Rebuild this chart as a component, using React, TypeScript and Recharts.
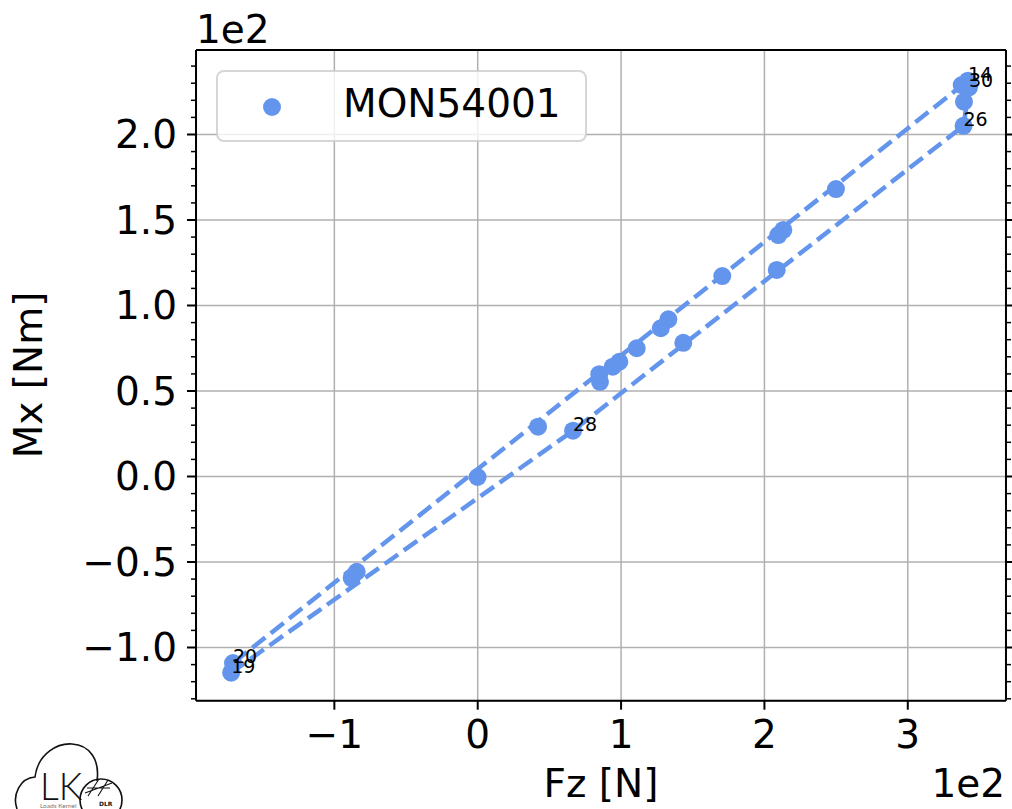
import React from 'react';
import { ScatterChart, Scatter, XAxis, YAxis, CartesianGrid, Legend } from 'recharts';

const FONT = '"DejaVu Sans", sans-serif';
const BLUE = '#6495ED';

const seriesName = 'MON54001';

// Fz [N] and Mx [Nm] per load case
const fzValues = [
  -172.0, -170.7, -87.9, -84.4, -0.1, 42.1, 66.5, 85.3, 84.8, 94.2, 98.8, 110.9, 127.7,
  133.0, 143.4, 170.6, 208.6, 209.7, 213.2, 249.9, 338.9, 339.2, 337.6, 342.7, 342.0,
];
const mxValues = [
  -114.7, -109.1, -59.4, -55.7, -0.3, 29.1, 26.8, 55.4, 59.8, 64.2, 67.1, 75.0, 86.7,
  91.9, 78.2, 117.2, 120.8, 141.2, 144.2, 168.1, 205.1, 219.2, 228.9, 227.6, 231.5,
];
const pointLabels = [
  '19', '20', '', '', '', '', '28', '', '', '', '', '', '',
  '', '', '', '', '', '', '', '26', '', '', '30', '14',
];
// convex hull drawn as the dashed envelope (indices into the arrays above)
const hullOrder = [0, 6, 20, 23, 24, 1, 0];

const xMajorTicks = [-100, 0, 100, 200, 300];
const xMinorTicks = [
  -180, -160, -140, -120, -80, -60, -40, -20, 20, 40, 60, 80, 120, 140, 160, 180, 220, 240,
  260, 280, 320, 340, 360,
];
const yMajorTicks = [-100, -50, 0, 50, 100, 150, 200];
const yMinorTicks = [
  -130, -120, -110, -90, -80, -70, -60, -40, -30, -20, -10, 10, 20, 30, 40, 60, 70, 80, 90,
  110, 120, 130, 140, 160, 170, 180, 190, 210, 220, 230, 240,
];
const xDomain = [-196.5, 368.5];
const yDomain = [-131.1, 249.4];

const points = fzValues.map((fz, i) => ({ fz, mx: mxValues[i], label: pointLabels[i] }));
const hull = hullOrder.map((i) => points[i]);
const labelled = points.filter((p) => p.label);

const minus = (s: string) => s.replace('-', '\u2212');
const fmtX = (v: number) => minus((v / 100).toFixed(0));
const fmtY = (v: number) => minus((v / 100).toFixed(1));

const MAJOR = 9;
const MINOR = 5;
const spine = { stroke: '#000', strokeWidth: 2 };

// ticks are drawn by hand (line + label) from the axis position recharts hands over
const BottomMajor = ({ x, y, payload }: any) => (
  <g>
    <line x1={x} x2={x} y1={y} y2={y + MAJOR} stroke="#000" strokeWidth={2} />
    <text x={x} y={y + 20} dy="0.71em" textAnchor="middle" fontSize={39} fontFamily={FONT} fill="#000">
      {fmtX(payload.value)}
    </text>
  </g>
);
const BottomMinor = ({ x, y }: any) => (
  <line x1={x} x2={x} y1={y} y2={y + MINOR} stroke="#000" strokeWidth={1.5} />
);
const TopMajor = ({ x, y }: any) => (
  <line x1={x} x2={x} y1={y} y2={y - MAJOR} stroke="#000" strokeWidth={2} />
);
const TopMinor = ({ x, y }: any) => (
  <line x1={x} x2={x} y1={y} y2={y - MINOR} stroke="#000" strokeWidth={1.5} />
);
const LeftMajor = ({ x, y, payload }: any) => (
  <g>
    <line x1={x - MAJOR} x2={x} y1={y} y2={y} stroke="#000" strokeWidth={2} />
    <text x={x - 19} y={y} dy="0.355em" textAnchor="end" fontSize={39} fontFamily={FONT} fill="#000">
      {fmtY(payload.value)}
    </text>
  </g>
);
const LeftMinor = ({ x, y }: any) => (
  <line x1={x - MINOR} x2={x} y1={y} y2={y} stroke="#000" strokeWidth={1.5} />
);
const RightMajor = ({ x, y }: any) => (
  <line x1={x} x2={x + MAJOR} y1={y} y2={y} stroke="#000" strokeWidth={2} />
);
const RightMinor = ({ x, y }: any) => (
  <line x1={x} x2={x + MINOR} y1={y} y2={y} stroke="#000" strokeWidth={1.5} />
);

const Dot = (p: any) => <circle cx={p.cx} cy={p.cy} r={9} fill={BLUE} />;
const Empty = () => <g />;
const PointLabel = (p: any) => (
  <text x={p.cx} y={p.cy} fontSize={19} fontFamily={FONT} fill="#000">
    {p.payload.label}
  </text>
);

const LegendBox = (props: any) => {
  const entry = (props.payload || []).find((e: any) => e.type !== 'none');
  const name = entry ? entry.value : seriesName;
  return (
    <svg width={372} height={73} style={{ display: 'block' }}>
      <rect x={1} y={1} width={369} height={70} rx={7} fill="#fff" fillOpacity={0.8}
        stroke="#cccccc" strokeOpacity={0.8} strokeWidth={2} />
      <circle cx={56} cy={37} r={9} fill={BLUE} />
      <text x={127} y={47} fontSize={39} fontFamily={FONT} fill="#000">{name}</text>
    </svg>
  );
};

const common = { type: 'number' as const, interval: 0 as const, allowDataOverflow: true, tickSize: 0, tickMargin: 0, tickLine: false };

export default function App() {
  return (
    <div style={{ position: 'absolute', left: 0, top: 0, width: 1012, height: 809, background: '#fff', overflow: 'hidden' }}>
      <ScatterChart width={1012} height={809} margin={{ top: 50, right: 6, bottom: 108.3, left: 196 }}>
        <XAxis xAxisId="xm" {...common} domain={xDomain} ticks={xMinorTicks} height={0.01} tick={BottomMinor} axisLine={false} />
        <XAxis xAxisId="x" {...common} dataKey="fz" domain={xDomain} ticks={xMajorTicks} height={0.01} tick={BottomMajor} axisLine={spine} />
        <XAxis xAxisId="xtm" {...common} orientation="top" domain={xDomain} ticks={xMinorTicks} height={0.01} tick={TopMinor} axisLine={false} />
        <XAxis xAxisId="xt" {...common} orientation="top" domain={xDomain} ticks={xMajorTicks} height={0.01} tick={TopMajor} axisLine={spine} />
        <YAxis yAxisId="ym" {...common} domain={yDomain} ticks={yMinorTicks} width={0.01} tick={LeftMinor} axisLine={false} />
        <YAxis yAxisId="y" {...common} dataKey="mx" domain={yDomain} ticks={yMajorTicks} width={0.01} tick={LeftMajor} axisLine={spine} />
        <YAxis yAxisId="yrm" {...common} orientation="right" domain={yDomain} ticks={yMinorTicks} width={0.01} tick={RightMinor} axisLine={false} />
        <YAxis yAxisId="yr" {...common} orientation="right" domain={yDomain} ticks={yMajorTicks} width={0.01} tick={RightMajor} axisLine={spine} />
        <CartesianGrid xAxisId="x" yAxisId="y" stroke="#b0b0b0" strokeWidth={1.5} />
        <Scatter xAxisId="x" yAxisId="y" data={hull} legendType="none" shape={Empty}
          line={{ stroke: BLUE, strokeWidth: 4.5, strokeDasharray: '16.5 7' }} isAnimationActive={false} />
        <Scatter xAxisId="x" yAxisId="y" name={seriesName} data={points} fill={BLUE} shape={Dot}
          isAnimationActive={false} />
        <Scatter xAxisId="x" yAxisId="y" data={labelled} legendType="none" shape={PointLabel}
          isAnimationActive={false} />
        <Legend layout="vertical" align="center" verticalAlign="middle" content={LegendBox}
          wrapperStyle={{ left: 216, top: 70, width: 372, height: 73 }} />
      </ScatterChart>

      <svg width={1012} height={809} style={{ position: 'absolute', left: 0, top: 0, pointerEvents: 'none' }}>
        <g fontFamily={FONT} fontSize={39} fill="#000">
          <text x={196} y={43}>1e2</text>
          <text x={1005} y={797} textAnchor="end">1e2</text>
          <text x={601} y={797} textAnchor="middle">Fz [N]</text>
          <text x={42} y={375} textAnchor="middle" transform="rotate(-90 42 375)">Mx [Nm]</text>
        </g>
        {/* Loads Kernel logo */}
        <g fill="none" stroke="#111" strokeWidth={1.6}>
          <path d="M 17 809 C 12 795, 20 778, 35 777 C 38 753, 58 743, 72 744 C 90 745, 100 760, 97 781" />
          <circle cx={101} cy={800} r={21} />
          <path d="M 85 793 L 112 783 M 88 796 L 99 779 M 98 796 L 108 780 M 87 788 L 110 788" strokeWidth={1.1} />
        </g>
        <text x={40} y={800} fontFamily="Lato" fontWeight={300} fontSize={37} fill="#111">LK</text>
        <text x={40} y={808} fontFamily="Lato" fontSize={6.5} fill="#777">Loads Kernel</text>
        <text x={99} y={806} fontFamily={FONT} fontWeight="bold" fontSize={6} fill="#111">DLR</text>
      </svg>
    </div>
  );
}
